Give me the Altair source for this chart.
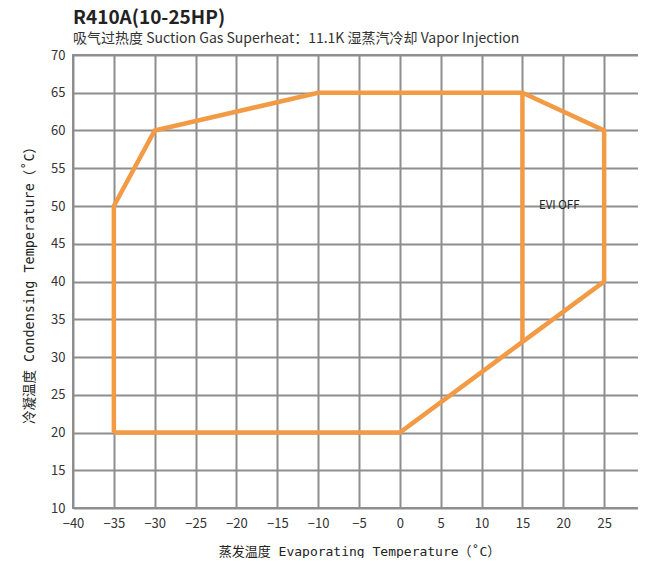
import altair as alt
import pandas as pd

# Operating envelope (evaporating °C, condensing °C)
env_x = [-35, -35, -30, -10, 15, 25, 25, 15, 0, -35]
env_y = [20, 50, 60, 65, 65, 60, 40, 32, 20, 20]
# EVI OFF boundary
evi_x = [15, 15]
evi_y = [65, 32]

x_ticks = list(range(-40, 31, 5))
y_ticks = list(range(10, 71, 5))

label_text = ["EVI OFF"]
label_x = [19.5]
label_y = [50]

rows = []
for i, (a, b) in enumerate(zip(env_x, env_y)):
    rows.append({"x": a, "y": b, "seg": "envelope", "o": i})
for i, (a, b) in enumerate(zip(evi_x, evi_y)):
    rows.append({"x": a, "y": b, "seg": "evi", "o": i})
df = pd.DataFrame(rows)
df_lab = pd.DataFrame({"x": label_x, "y": label_y, "t": label_text})

FONT = "Noto Sans CJK SC"
MONO = "DejaVu Sans Mono, Noto Sans CJK SC"
GRID = "#8e8e8e"

xs = alt.Scale(domain=[-40, 30], nice=False, zero=False)
ys = alt.Scale(domain=[10, 70], nice=False, zero=False)

xaxis = alt.Axis(values=x_ticks, grid=True, gridColor=GRID, gridWidth=2, gridOpacity=1,
                 domain=False, ticks=False, labelPadding=9, labelFontSize=13,
                 labelColor="#333333", labelFont=FONT, labelFlush=False, labelOverlap=False,
                 title="蒸发温度 Evaporating Temperature（˚C）", titleFont=MONO,
                 titleFontSize=13, titleFontWeight="normal", titleColor="#222222",
                 titlePadding=15)
yaxis = alt.Axis(values=y_ticks, grid=True, gridColor=GRID, gridWidth=2, gridOpacity=1,
                 domain=False, ticks=False, labelPadding=8, labelFontSize=13,
                 labelColor="#333333", labelFont=FONT, labelFlush=False, labelOverlap=False,
                 title="冷凝温度 Condensing Temperature（˚C）", titleFont=MONO,
                 titleFontSize=13.5, titleFontWeight="normal", titleColor="#222222",
                 titlePadding=14)

lines = alt.Chart(df).mark_line(color="#F39A45", strokeWidth=4.5, strokeJoin="miter").encode(
    x=alt.X("x:Q", scale=xs, axis=xaxis),
    y=alt.Y("y:Q", scale=ys, axis=yaxis),
    detail="seg:N",
    order="o:Q",
)

text = alt.Chart(df_lab).mark_text(fontSize=11.5, color="#222222", font=FONT).encode(
    x=alt.X("x:Q", scale=xs, axis=xaxis),
    y=alt.Y("y:Q", scale=ys, axis=yaxis),
    text="t:N",
)

chart = (lines + text).properties(
    width=572,
    height=453,
    padding={"left": 65, "top": 47, "right": -7, "bottom": 50},
    autosize=alt.AutoSizeParams(type="none"),
    title=alt.TitleParams(
        text="R410A(10-25HP)",
        subtitle="吸气过热度 Suction Gas Superheat：11.1K   湿蒸汽冷却 Vapor Injection",
        anchor="start", frame="group", fontSize=19, fontWeight="bold", font=FONT,
        color="#222222", subtitleFont=FONT, subtitleFontSize=14, subtitleColor="#333333",
        subtitlePadding=4, offset=3,
    ),
).configure_view(stroke=GRID, strokeWidth=2)

chart.save("out.html", embed_options={"renderer": "svg", "actions": False})
